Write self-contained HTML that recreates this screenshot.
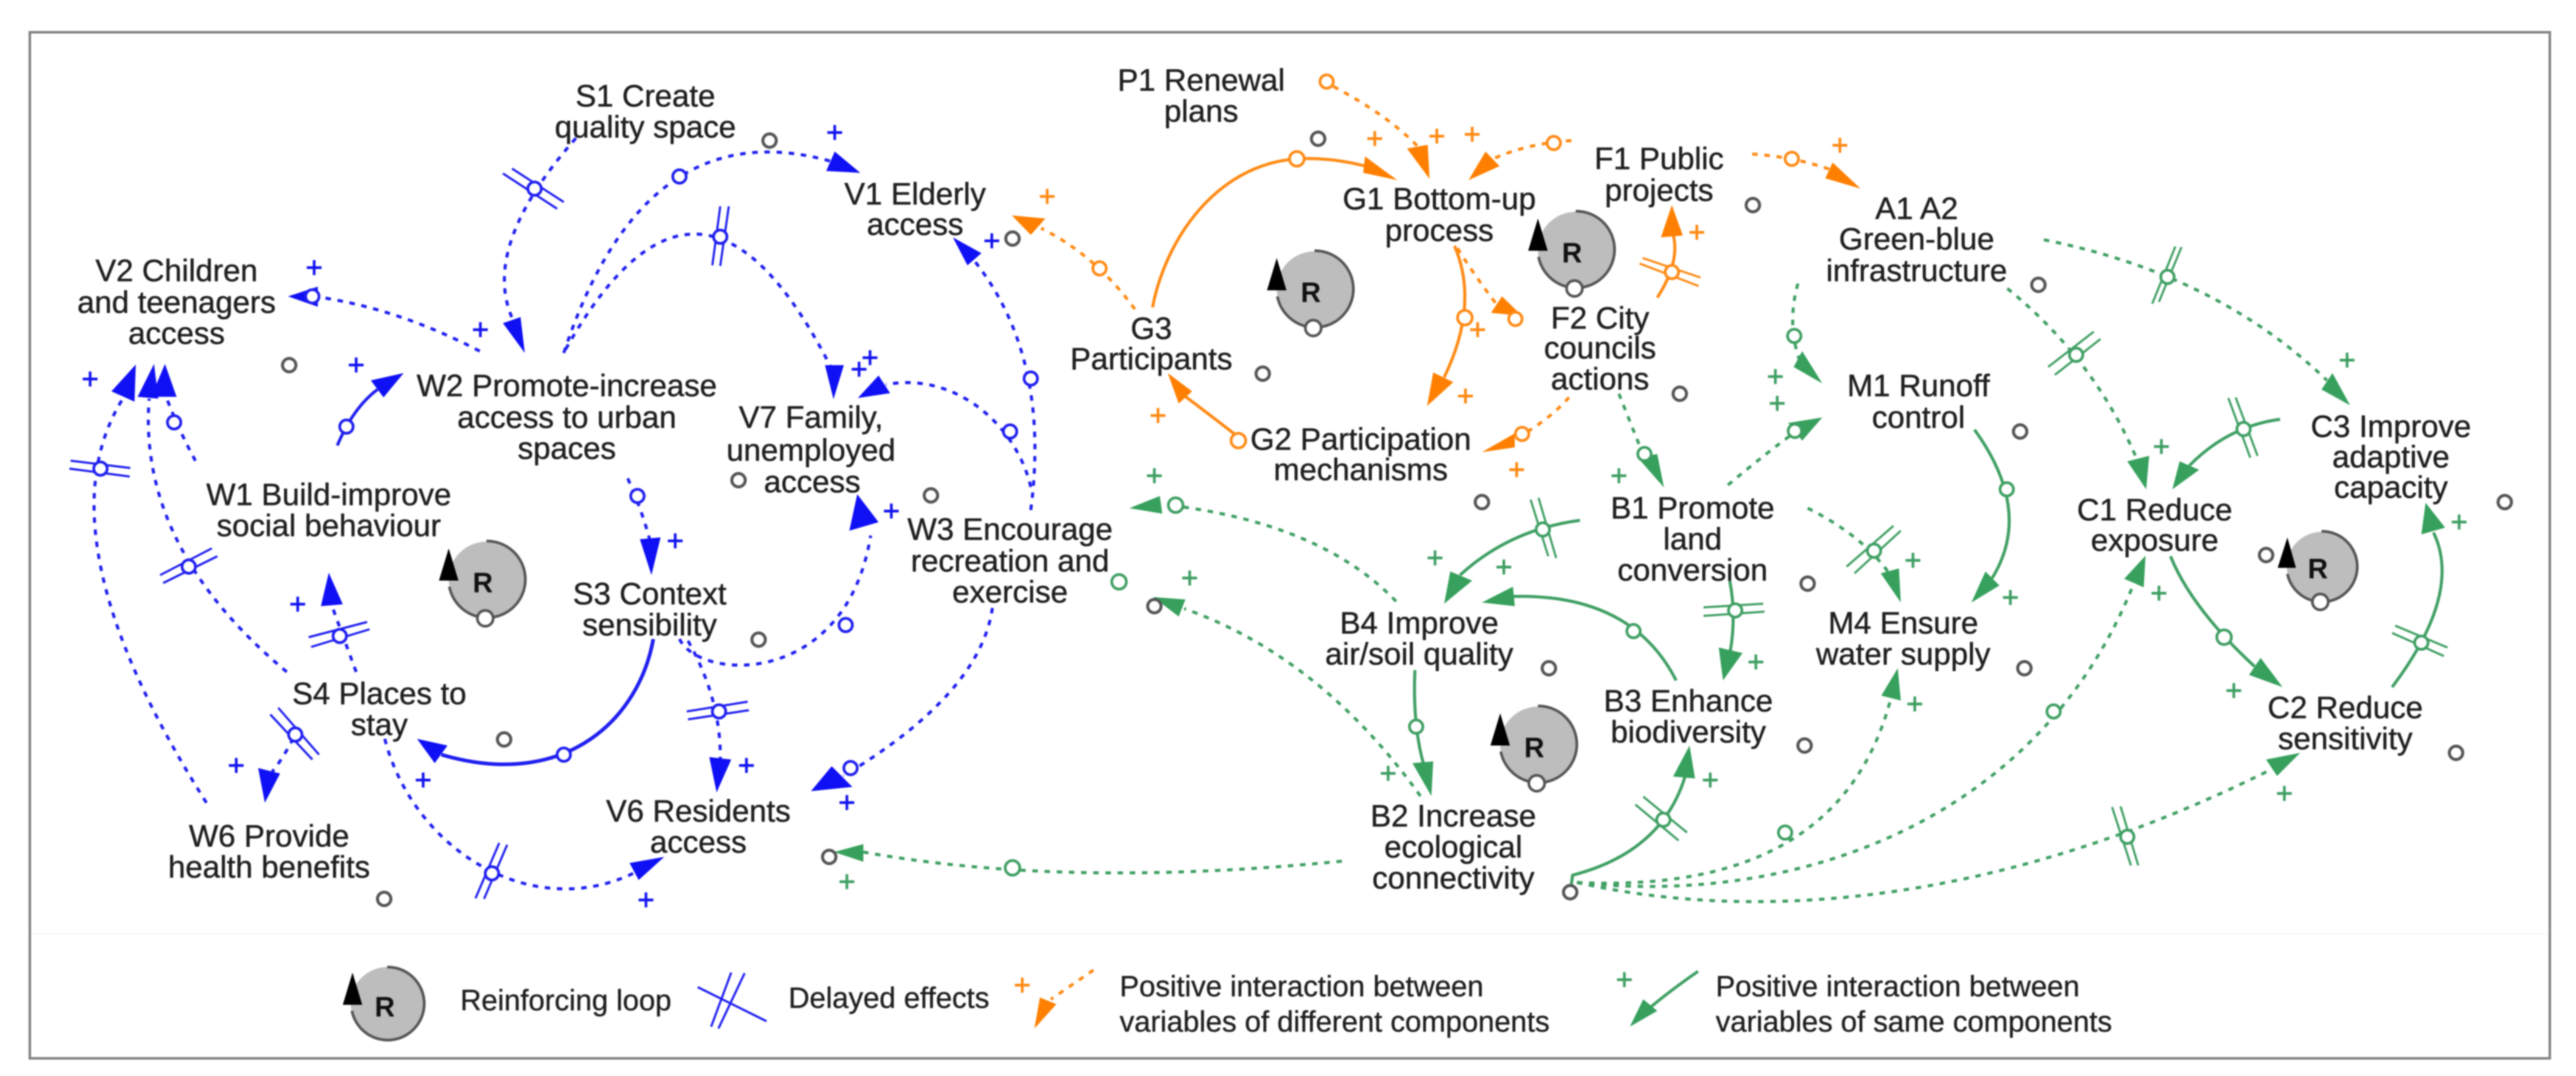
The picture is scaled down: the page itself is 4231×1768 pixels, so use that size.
<!DOCTYPE html>
<html lang="en">
<head>
<meta charset="utf-8">
<title>Causal loop diagram</title>
<style>
html,body{margin:0;padding:0;background:#fff;width:4231px;height:1768px;overflow:hidden}
svg{display:block;position:absolute;left:0;top:0}
.all{filter:blur(1.1px)}
.lab{font-family:"Liberation Sans",sans-serif;font-size:51px;fill:#1f1f1f;stroke:#1f1f1f;stroke-width:.6px;text-anchor:middle}
.leg{font-family:"Liberation Sans",sans-serif;font-size:48px;fill:#1f1f1f;stroke:#1f1f1f;stroke-width:.5px}
.p{font-family:"Liberation Sans",sans-serif;font-size:48px;text-anchor:middle;stroke-width:1px}
.R{font-family:"Liberation Sans",sans-serif;font-size:46px;font-weight:bold;fill:#111;text-anchor:middle}
.d{stroke-dasharray:9 11}
.ln{fill:none;stroke-width:5}
.mk{fill:none;stroke-width:3.5}
.c{fill:#fff;stroke-width:4.5}
</style>
</head>
<body>
<svg width="4231" height="1768" viewBox="0 0 4231 1768" xmlns="http://www.w3.org/2000/svg">
<rect width="4231" height="1768" fill="#fff"/>
<g class="all">
<rect x="49" y="53" width="4139" height="1686" fill="#fff" stroke="#808080" stroke-width="4"/>
<line x1="52" y1="1534" x2="4185" y2="1534" stroke="#f6f6f6" stroke-width="2"/>

<!-- BLUE -->
<g stroke="#1e1ef0">
<g class="ln">
<path class="d" d="M946 227Q778 417 850 540"/>
<path class="d" d="M926 580Q1060 172 1375 268"/>
<path class="d" d="M929 574Q1152 178 1368 610"/>
<path class="d" d="M788 577Q650 505 515 487"/>
<path class="d" d="M339 1319Q58 875 205 650"/>
<path class="d" d="M471 1104Q226 900 245 655"/>
<path class="d" d="M321 757Q295 710 272 650"/>
<path d="M554 732Q580 670 620 640"/>
<path class="d" d="M1031 786Q1055 840 1068 890"/>
<path d="M1073 1050C1050 1180 930 1300 725 1240" stroke-width="6"/>
<path class="d" d="M1116 1050C1150 1120 1390 1130 1430 880"/>
<path class="d" d="M1130 1053Q1185 1150 1183 1250"/>
<path class="d" d="M585 1104Q565 1050 545 995"/>
<path class="d" d="M490 1195Q470 1240 447 1268"/>
<path class="d" d="M632 1214C680 1400 880 1520 1050 1430"/>
<path class="d" d="M1693 838Q1726 587 1600 428"/>
<path class="d" d="M1693 800C1670 700 1570 610 1455 632"/>
<path class="d" d="M1630 999Q1610 1140 1385 1275"/>
</g>
<g class="mk">
<path d="M826 285L915 343M841 277L926 332"/>
<path d="M1183 339L1170 436M1197 339L1183 437"/>
<path d="M116 757L214 769M114 770L213 783"/>
<path d="M263 945L348 901M268 958L357 914"/>
<path d="M1128 1169L1228 1153M1130 1182L1230 1167"/>
<path d="M507 1047L603 1022M511 1063L607 1034"/>
<path d="M444 1174L513 1248M457 1163L524 1240"/>
<path d="M820 1385L781 1476M833 1388L795 1477"/>
<path d="M1146 1622L1259 1678M1201 1598L1168 1687M1223 1599L1180 1690"/>
</g>
<g fill="#1010f5" stroke="none">
<polygon points="862,580 826,531 855,521"/>
<polygon points="1413,284 1371,249 1357,281"/>
<polygon points="1369,656 1355,600 1386,600"/>
<polygon points="473,487 522,471 522,504"/>
<polygon points="223,599 183,643 221,660"/>
<polygon points="253,598 226,652 260,655"/>
<polygon points="271,598 248,652 290,652"/>
<polygon points="663,613 609,625 630,653"/>
<polygon points="1070,945 1051,886 1085,883"/>
<polygon points="685,1214 714,1254 735,1225"/>
<polygon points="1408,812 1443,858 1395,872"/>
<polygon points="1177,1302 1165,1244 1201,1248"/>
<polygon points="540,941 527,996 563,993"/>
<polygon points="435,1319 424,1262 460,1271"/>
<polygon points="1091,1408 1034,1418 1049,1446"/>
<polygon points="1565,390 1589,436 1612,416"/>
<polygon points="1409,654 1443,617 1462,646"/>
<polygon points="1332,1300 1366,1259 1400,1293"/>
</g>
<g class="c">
<circle cx="878" cy="310" r="11"/><circle cx="1116" cy="290" r="11"/><circle cx="1183" cy="389" r="11"/>
<circle cx="513" cy="487" r="11"/><circle cx="165" cy="770" r="11"/><circle cx="310" cy="931" r="11"/>
<circle cx="286" cy="694" r="11"/><circle cx="569" cy="701" r="11"/><circle cx="1047" cy="815" r="11"/>
<circle cx="926" cy="1240" r="11"/><circle cx="1389" cy="1027" r="11"/><circle cx="1181" cy="1169" r="11"/>
<circle cx="558" cy="1045" r="11"/><circle cx="485" cy="1207" r="11"/><circle cx="808" cy="1435" r="11"/>
<circle cx="1693" cy="622" r="11"/><circle cx="1659" cy="709" r="11"/><circle cx="1397" cy="1262" r="11"/>
</g>
</g>
<g class="p" fill="#1414f0" stroke="#1414f0">
<text x="1371" y="234">+</text><text x="516" y="456">+</text><text x="789" y="558">+</text><text x="148" y="639">+</text>
<text x="585" y="616">+</text><text x="1109" y="905">+</text><text x="1629" y="412">+</text><text x="1429" y="604">+</text>
<text x="1411" y="623">+</text><text x="1464" y="856">+</text><text x="489" y="1009">+</text><text x="388" y="1274">+</text>
<text x="695" y="1298">+</text><text x="1226" y="1274">+</text><text x="1061" y="1495">+</text><text x="1391" y="1335">+</text>
</g>

<!-- ORANGE -->
<g stroke="#ff8a14">
<g class="ln">
<path class="d" d="M2190 142Q2280 190 2328 240"/>
<path d="M1893 505C1915 390 2000 270 2130 261Q2190 258 2250 275"/>
<path class="d" d="M2581 231Q2510 235 2450 262"/>
<path class="d" d="M1864 508Q1800 420 1710 375"/>
<path d="M2389 404Q2430 500 2372 620"/>
<path class="d" d="M2394 408Q2420 450 2458 500"/>
<path d="M2030 715Q1985 680 1945 650"/>
<path class="d" d="M2577 653Q2540 695 2480 725"/>
<path d="M2722 489Q2760 430 2748 385"/>
<path class="d" d="M2878 253Q2950 258 3010 280"/>
<path class="d" d="M1796 1594L1726 1642"/>
</g>
<path class="mk" d="M2693 433L2790 470M2698 424L2793 456"/>
<g fill="#ff8000" stroke="none">
<polygon points="2348,294 2311,244 2345,238"/>
<polygon points="2295,296 2242,257 2239,284"/>
<polygon points="2412,296 2440,249 2463,273"/>
<polygon points="1662,354 1717,359 1693,386"/>
<polygon points="2344,667 2354,612 2387,628"/>
<polygon points="2500,519 2467,487 2449,514"/>
<polygon points="1918,613 1958,643 1936,663"/>
<polygon points="2434,743 2488,712 2488,735"/>
<polygon points="2746,337 2728,390 2764,387"/>
<polygon points="3056,310 3010,267 2998,293"/>
<polygon points="1699,1690 1708,1639 1735,1650"/>
</g>
<g class="c">
<circle cx="2179" cy="134" r="11"/><circle cx="2130" cy="261" r="12"/><circle cx="2552" cy="235" r="11"/>
<circle cx="1806" cy="441" r="11"/><circle cx="2406" cy="522" r="12"/><circle cx="2489" cy="524" r="11"/>
<circle cx="2034" cy="724" r="12"/><circle cx="2500" cy="713" r="11"/><circle cx="2746" cy="447" r="11"/>
<circle cx="2943" cy="261" r="11"/>
</g>
</g>
<g class="p" fill="#ff8a14" stroke="#ff8a14">
<text x="2258" y="244">+</text><text x="2360" y="240">+</text><text x="2418" y="237">+</text><text x="1720" y="339">+</text>
<text x="2427" y="558">+</text><text x="2407" y="667">+</text><text x="1902" y="699">+</text><text x="2491" y="788">+</text>
<text x="2787" y="398">+</text><text x="3022" y="255">+</text><text x="1679" y="1635">+</text>
</g>

<!-- GREEN -->
<g stroke="#3f9f63">
<g class="ln">
<path class="d" d="M2659 647Q2680 700 2702 755"/>
<path class="d" d="M2953 466Q2935 530 2955 590"/>
<path class="d" d="M2838 797Q2900 745 2955 705"/>
<path class="d" d="M3297 474Q3440 590 3510 755"/>
<path class="d" d="M3357 394Q3640 450 3822 625"/>
<path d="M3745 689Q3660 700 3596 765"/>
<path d="M3565 914Q3600 1000 3703 1095"/>
<path d="M3929 1129Q4045 975 3997 875"/>
<path d="M3243 706Q3340 840 3272 950"/>
<path class="d" d="M2969 835Q3060 880 3105 945"/>
<path d="M2841 954Q2852 1010 2842 1070"/>
<path d="M2595 855Q2480 870 2398 945"/>
<path d="M2753 1118Q2680 975 2485 980"/>
<path d="M2324 1101Q2320 1190 2338 1255"/>
<path class="d" d="M2293 988Q2170 860 1920 830"/>
<path class="d" d="M2333 1308Q2170 1080 1945 1000"/>
<path class="d" d="M2204 1415Q1750 1460 1418 1400"/>
<path d="M2579 1466L2583 1438Q2730 1400 2768 1275"/>
<path class="d" d="M2590 1450Q3020 1470 3105 1150"/>
<path class="d" d="M2590 1450C2950 1490 3350 1350 3505 958"/>
<path class="d" d="M2590 1450C2900 1520 3300 1480 3735 1262"/>
<path d="M2789 1596Q2740 1630 2705 1660"/>
</g>
<g class="mk">
<path d="M3364 603L3439 545M3375 616L3450 557"/>
<path d="M3583 406L3546 496M3573 405L3535 499"/>
<path d="M3660 654L3696 752M3672 653L3708 749"/>
<path d="M3929 1040L4014 1078M3934 1028L4020 1064"/>
<path d="M3033 931L3110 864M3046 942L3122 872"/>
<path d="M2798 998L2896 992M2798 1012L2898 1005"/>
<path d="M2514 821L2543 914M2527 818L2556 917"/>
<path d="M2686 1322L2757 1381M2699 1309L2771 1368"/>
<path d="M3469 1326L3500 1422M3483 1325L3512 1422"/>
</g>
<g fill="#36a05c" stroke="none">
<polygon points="2733,801 2690,752 2722,746"/>
<polygon points="2993,630 2960,577 2946,603"/>
<polygon points="2993,686 2937,695 2960,724"/>
<polygon points="3525,804 3494,758 3530,749"/>
<polygon points="3860,666 3831,613 3813,640"/>
<polygon points="3568,804 3580,758 3612,772"/>
<polygon points="3749,1129 3713,1081 3694,1109"/>
<polygon points="3984,826 3977,878 4016,867"/>
<polygon points="3238,990 3261,939 3284,962"/>
<polygon points="3122,990 3089,942 3119,934"/>
<polygon points="2830,1118 2823,1064 2862,1073"/>
<polygon points="2372,992 2382,939 2418,954"/>
<polygon points="2434,990 2485,964 2488,996"/>
<polygon points="2351,1308 2320,1254 2354,1251"/>
<polygon points="1855,835 1905,815 1909,844"/>
<polygon points="1894,981 1947,985 1936,1013"/>
<polygon points="1370,1400 1418,1387 1418,1416"/>
<polygon points="2775,1225 2748,1276 2784,1279"/>
<polygon points="3117,1098 3090,1143 3122,1151"/>
<polygon points="3524,913 3489,951 3521,965"/>
<polygon points="3778,1237 3722,1248 3740,1275"/>
<polygon points="2677,1687 2699,1642 2722,1661"/>
</g>
<g class="c">
<circle cx="2701" cy="746" r="11"/><circle cx="2947" cy="552" r="11"/><circle cx="2948" cy="708" r="11"/>
<circle cx="3410" cy="583" r="11"/><circle cx="3560" cy="455" r="11"/><circle cx="3685" cy="705" r="11"/>
<circle cx="3653" cy="1047" r="12"/><circle cx="3977" cy="1056" r="11"/><circle cx="3296" cy="804" r="11"/>
<circle cx="3078" cy="905" r="11"/><circle cx="2850" cy="1003" r="11"/><circle cx="2534" cy="870" r="11"/>
<circle cx="2683" cy="1037" r="11"/><circle cx="2326" cy="1194" r="11"/><circle cx="1931" cy="830" r="12"/>
<circle cx="1838" cy="956" r="12"/><circle cx="1663" cy="1426" r="12"/><circle cx="2732" cy="1347" r="11"/>
<circle cx="2932" cy="1368" r="11"/><circle cx="3373" cy="1169" r="11"/><circle cx="3494" cy="1375" r="11"/>
</g>
</g>
<g class="p" fill="#3f9f63" stroke="#3f9f63">
<text x="1896" y="798">+</text><text x="2659" y="798">+</text><text x="2916" y="635">+</text><text x="2919" y="679">+</text>
<text x="3855" y="608">+</text><text x="3550" y="750">+</text><text x="4039" y="874">+</text><text x="1954" y="966">+</text>
<text x="2357" y="933">+</text><text x="2470" y="948">+</text><text x="2280" y="1287">+</text><text x="1391" y="1465">+</text>
<text x="3142" y="937">+</text><text x="2884" y="1104">+</text><text x="3302" y="998">+</text><text x="3145" y="1173">+</text>
<text x="2809" y="1298">+</text><text x="3546" y="991">+</text><text x="3669" y="1151">+</text><text x="3752" y="1320">+</text>
<text x="2668" y="1626">+</text>
</g>

<!-- Small grey markers -->
<g fill="#fff" stroke="#555" stroke-width="5">
<circle cx="1264" cy="231" r="11"/><circle cx="475" cy="600" r="11"/><circle cx="1213" cy="789" r="11"/>
<circle cx="2165" cy="228" r="11"/><circle cx="1663" cy="392" r="11"/><circle cx="2074" cy="614" r="11"/>
<circle cx="2759" cy="647" r="11"/><circle cx="1529" cy="814" r="11"/><circle cx="2434" cy="825" r="11"/>
<circle cx="2879" cy="337" r="11"/><circle cx="3348" cy="468" r="11"/><circle cx="3318" cy="709" r="11"/>
<circle cx="4114" cy="825" r="11"/><circle cx="1246" cy="1051" r="11"/><circle cx="828" cy="1215" r="11"/>
<circle cx="631" cy="1477" r="11"/><circle cx="1362" cy="1408" r="11"/><circle cx="1896" cy="996" r="11"/>
<circle cx="2544" cy="1098" r="11"/><circle cx="2579" cy="1466" r="11"/><circle cx="2969" cy="959" r="11"/>
<circle cx="3325" cy="1098" r="11"/><circle cx="2964" cy="1225" r="11"/><circle cx="3722" cy="912" r="11"/>
<circle cx="4034" cy="1237" r="11"/>
</g>

<!-- Reinforcing loops -->
<g id="loops">
<g transform="translate(799 952)"><circle r="62" fill="#bdbdbd"/><path d="M0 -63A63 63 0 1 1 -61 12" fill="none" stroke="#555" stroke-width="4.5"/><polygon points="-62,-51 -78,2 -46,2" fill="#000"/><text class="R" x="-6" y="21">R</text><circle cx="-2" cy="64" r="13" fill="#fff" stroke="#555" stroke-width="4.5"/></g>
<g transform="translate(2159 475)"><circle r="62" fill="#bdbdbd"/><path d="M0 -63A63 63 0 1 1 -61 12" fill="none" stroke="#555" stroke-width="4.5"/><polygon points="-62,-51 -78,2 -46,2" fill="#000"/><text class="R" x="-6" y="21">R</text><circle cx="-2" cy="64" r="13" fill="#fff" stroke="#555" stroke-width="4.5"/></g>
<g transform="translate(2588 410)"><circle r="62" fill="#bdbdbd"/><path d="M0 -63A63 63 0 1 1 -61 12" fill="none" stroke="#555" stroke-width="4.5"/><polygon points="-62,-51 -78,2 -46,2" fill="#000"/><text class="R" x="-6" y="21">R</text><circle cx="-2" cy="64" r="13" fill="#fff" stroke="#555" stroke-width="4.5"/></g>
<g transform="translate(2526 1223)"><circle r="62" fill="#bdbdbd"/><path d="M0 -63A63 63 0 1 1 -61 12" fill="none" stroke="#555" stroke-width="4.5"/><polygon points="-62,-51 -78,2 -46,2" fill="#000"/><text class="R" x="-6" y="21">R</text><circle cx="-2" cy="64" r="13" fill="#fff" stroke="#555" stroke-width="4.5"/></g>
<g transform="translate(3813 931)"><circle r="57" fill="#bdbdbd"/><path d="M0 -58A58 58 0 1 1 -56 12" fill="none" stroke="#555" stroke-width="4.5"/><polygon points="-56,-48 -72,2 -42,2" fill="#000"/><text class="R" x="-6" y="19">R</text><circle cx="-2" cy="58" r="13" fill="#fff" stroke="#555" stroke-width="4.5"/></g>
<g transform="translate(636 1649)"><circle r="60" fill="#bdbdbd"/><path d="M0 -60A60 60 0 1 1 -58 12" fill="none" stroke="#555" stroke-width="4.5"/><polygon points="-57,-51 -73,2 -41,2" fill="#000"/><text class="R" x="-4" y="21">R</text></g>
</g>

<!-- Labels -->
<text class="lab" x="290" y="462">V2 Children</text><text class="lab" x="290" y="514">and teenagers</text><text class="lab" x="290" y="565">access</text>
<text class="lab" x="1060" y="175">S1 Create</text><text class="lab" x="1060" y="226">quality space</text>
<text class="lab" x="1503" y="336">V1 Elderly</text><text class="lab" x="1503" y="386">access</text>
<text class="lab" x="1973" y="149">P1 Renewal</text><text class="lab" x="1973" y="200">plans</text>
<text class="lab" x="2364" y="344">G1 Bottom-up</text><text class="lab" x="2364" y="396">process</text>
<text class="lab" x="2725" y="278">F1 Public</text><text class="lab" x="2725" y="330">projects</text>
<text class="lab" x="3148" y="360">A1 A2</text><text class="lab" x="3148" y="410">Green-blue</text><text class="lab" x="3148" y="462">infrastructure</text>
<text class="lab" x="1891" y="557">G3</text><text class="lab" x="1891" y="607">Participants</text>
<text class="lab" x="2628" y="540">F2 City</text><text class="lab" x="2628" y="589">councils</text><text class="lab" x="2628" y="640">actions</text>
<text class="lab" x="2235" y="739">G2 Participation</text><text class="lab" x="2235" y="789">mechanisms</text>
<text class="lab" x="931" y="651">W2 Promote-increase</text><text class="lab" x="931" y="703">access to urban</text><text class="lab" x="931" y="754">spaces</text>
<text class="lab" x="1332" y="703">V7 Family,</text><text class="lab" x="1332" y="757">unemployed</text><text class="lab" x="1334" y="809">access</text>
<text class="lab" x="540" y="830">W1 Build-improve</text><text class="lab" x="540" y="881">social behaviour</text>
<text class="lab" x="1659" y="887">W3 Encourage</text><text class="lab" x="1659" y="939">recreation and</text><text class="lab" x="1659" y="990">exercise</text>
<text class="lab" x="3151" y="651">M1 Runoff</text><text class="lab" x="3151" y="703">control</text>
<text class="lab" x="3927" y="718">C3 Improve</text><text class="lab" x="3927" y="768">adaptive</text><text class="lab" x="3927" y="818">capacity</text>
<text class="lab" x="3539" y="855">C1 Reduce</text><text class="lab" x="3539" y="905">exposure</text>
<text class="lab" x="2780" y="852">B1 Promote</text><text class="lab" x="2780" y="903">land</text><text class="lab" x="2780" y="954">conversion</text>
<text class="lab" x="1067" y="993">S3 Context</text><text class="lab" x="1067" y="1044">sensibility</text>
<text class="lab" x="623" y="1157">S4 Places to</text><text class="lab" x="623" y="1208">stay</text>
<text class="lab" x="442" y="1391">W6 Provide</text><text class="lab" x="442" y="1442">health benefits</text>
<text class="lab" x="1147" y="1350">V6 Residents</text><text class="lab" x="1147" y="1401">access</text>
<text class="lab" x="2331" y="1041">B4 Improve</text><text class="lab" x="2331" y="1092">air/soil quality</text>
<text class="lab" x="2387" y="1358">B2 Increase</text><text class="lab" x="2387" y="1409">ecological</text><text class="lab" x="2387" y="1460">connectivity</text>
<text class="lab" x="2773" y="1169">B3 Enhance</text><text class="lab" x="2773" y="1220">biodiversity</text>
<text class="lab" x="3126" y="1041">M4 Ensure</text><text class="lab" x="3126" y="1092">water supply</text>
<text class="lab" x="3852" y="1180">C2 Reduce</text><text class="lab" x="3852" y="1231">sensitivity</text>

<!-- Legend text -->
<text class="leg" x="756" y="1660">Reinforcing loop</text>
<text class="leg" x="1295" y="1656">Delayed effects</text>
<text class="leg" x="1839" y="1637">Positive interaction between</text>
<text class="leg" x="1839" y="1695">variables of different components</text>
<text class="leg" x="2818" y="1637">Positive interaction between</text>
<text class="leg" x="2818" y="1695">variables of same components</text>
</g>
</svg>
</body>
</html>
